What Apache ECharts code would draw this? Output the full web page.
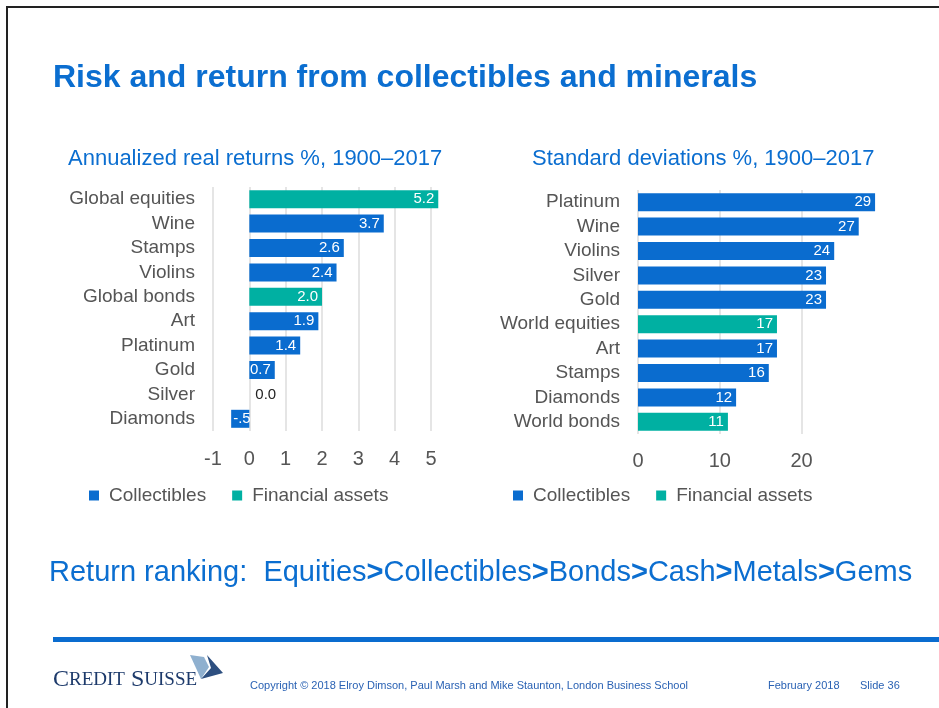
<!doctype html>
<html>
<head>
<meta charset="utf-8">
<script src="https://cdn.jsdelivr.net/npm/echarts@6/dist/echarts.min.js"></script>
<style>
    html, body { margin: 0; padding: 0; background: #fff; }
    #main { width: 939px; height: 708px; }
</style>
</head>
<body>
<div id="main"></div>
<script>
// left chart: annualized real returns
var leftCats = ['Global equities', 'Wine', 'Stamps', 'Violins', 'Global bonds', 'Art', 'Platinum', 'Gold', 'Silver', 'Diamonds'];
var leftVals = [5.2, 3.7, 2.6, 2.4, 2.0, 1.9, 1.4, 0.7, 0.0, -0.5];
var leftKind = ['F', 'C', 'C', 'C', 'F', 'C', 'C', 'C', 'C', 'C'];

// right chart: standard deviations
var rightCats = ['Platinum', 'Wine', 'Violins', 'Silver', 'Gold', 'World equities', 'Art', 'Stamps', 'Diamonds', 'World bonds'];
var rightVals = [29, 27, 24, 23, 23, 17, 17, 16, 12, 11];
var rightKind = ['C', 'C', 'C', 'C', 'C', 'F', 'C', 'C', 'C', 'F'];

var seriesNames = { C: 'Collectibles', F: 'Financial assets' };
var colors = { C: '#0a6ccf', F: '#00b0a2' };

var BLUE = '#0b6ed0';
var GREY = '#555';

function fmtLeft(p) {
    var v = p.value;
    if (v < 0) return '-' + String(Math.abs(v)).replace(/^0/, '');
    return v.toFixed(1);
}
function fmtRight(p) {
    return String(p.value);
}

function makeSeries(kind, vals, kinds, idx, fmt) {
    return {
        name: seriesNames[kind],
        type: 'bar',
        xAxisIndex: idx,
        yAxisIndex: idx,
        stack: 's' + idx,
        barWidth: 18,
        clip: false,
        itemStyle: { color: colors[kind] },
        label: {
            show: true,
            position: 'insideRight',
            color: '#fff',
            fontSize: 15,
            fontFamily: 'Liberation Sans',
            distance: 4,
            formatter: fmt
        },
        data: vals.map(function (v, i) {
            if (kinds[i] !== kind) return '-';
            if (v === 0) return { value: v, label: { position: 'right', color: '#222', distance: 6 } };
            if (v < 0) return { value: v, label: { position: 'insideLeft', distance: 2 } };
            return v;
        })
    };
}

var myChart = echarts.init(document.getElementById('main'));

var catAxis = function (idx, cats) {
    return {
        type: 'category',
        gridIndex: idx,
        data: cats,
        inverse: true,
        axisLine: { show: false },
        axisTick: { show: false },
        axisLabel: { interval: 0, color: GREY, fontSize: 19, fontFamily: 'Liberation Sans', margin: 18 }
    };
};
var valAxis = function (idx, min, max, step, margin) {
    return {
        type: 'value',
        gridIndex: idx,
        min: min,
        max: max,
        interval: step,
        axisLine: { show: false },
        axisTick: { show: false },
        splitLine: { show: true, lineStyle: { color: '#dcdcdc', width: 1.5 } },
        axisLabel: { color: GREY, fontSize: 20, fontFamily: 'Liberation Sans', margin: margin }
    };
};

var legendStyle = {
    icon: 'rect',
    itemWidth: 10,
    itemHeight: 10,
    itemGap: 26,
    textStyle: { color: GREY, fontSize: 19, fontFamily: 'Liberation Sans', padding: [0, 0, 0, 5] },
    data: ['Collectibles', 'Financial assets']
};

var option = {
    animation: false,
    backgroundColor: '#fff',
    grid: [
        { left: 213, top: 187, width: 218, height: 244 },
        { left: 638, top: 190, width: 163.5, height: 244 }
    ],
    xAxis: [valAxis(0, -1, 5, 1, 18), valAxis(1, 0, 20, 10, 17)],
    yAxis: [catAxis(0, leftCats), catAxis(1, rightCats)],
    legend: [
        Object.assign({ left: 84, top: 481 }, legendStyle),
        Object.assign({ left: 508, top: 481 }, legendStyle)
    ],
    series: [
        makeSeries('C', leftVals, leftKind, 0, fmtLeft),
        makeSeries('F', leftVals, leftKind, 0, fmtLeft),
        makeSeries('C', rightVals, rightKind, 1, fmtRight),
        makeSeries('F', rightVals, rightKind, 1, fmtRight)
    ],
    graphic: [
        // slide frame
        { type: 'rect', shape: { x: 7, y: 7, width: 960, height: 720 }, style: { fill: 'none', stroke: '#222', lineWidth: 2 }, silent: true },
        { type: 'text', left: 53, top: 62, style: { text: 'Risk and return from collectibles and minerals', fill: BLUE, font: 'bold 32px "Liberation Sans"' } },
        { type: 'text', left: 68, top: 148, style: { text: 'Annualized real returns %, 1900–2017', fill: BLUE, font: '22px "Liberation Sans"' } },
        { type: 'text', left: 532, top: 148, style: { text: 'Standard deviations %, 1900–2017', fill: BLUE, font: '22px "Liberation Sans"' } },
        {
            type: 'text', left: 49, top: 558,
            style: {
                text: '{n|Return ranking:  Equities}{g|>}{n|Collectibles}{g|>}{n|Bonds}{g|>}{n|Cash}{g|>}{n|Metals}{g|>}{n|Gems}',
                rich: {
                    n: { fill: BLUE, font: '29px "Liberation Sans"' },
                    g: { fill: BLUE, font: 'bold 29px "Liberation Sans"' }
                }
            }
        },
        // blue rule
        { type: 'rect', shape: { x: 53, y: 637, width: 900, height: 5 }, style: { fill: '#0a6ccf' }, silent: true },
        // logo
        {
            type: 'text', left: 53, top: 668,
            style: {
                text: '{b|C}{s|REDIT}{b| S}{s|UISSE}',
                rich: {
                    b: { fill: '#1d3a6b', font: '24px "Liberation Serif"' },
                    s: { fill: '#1d3a6b', font: '19px "Liberation Serif"' }
                }
            }
        },
        { type: 'polygon', shape: { points: [[190, 655], [204, 657], [209, 667], [201, 679]] }, style: { fill: '#8fb0cf' }, silent: true },
        { type: 'polygon', shape: { points: [[207, 655], [223, 673], [201, 679], [211, 668]] }, style: { fill: '#2d4f80' }, silent: true },
        { type: 'text', left: 250, top: 680, style: { text: 'Copyright © 2018 Elroy Dimson, Paul Marsh and Mike Staunton, London Business School', fill: '#2a62b4', font: '11px "Liberation Sans"' } },
        { type: 'text', left: 768, top: 680, style: { text: 'February 2018', fill: '#2a62b4', font: '11px "Liberation Sans"' } },
        { type: 'text', left: 860, top: 680, style: { text: 'Slide 36', fill: '#2a62b4', font: '11px "Liberation Sans"' } }
    ]
};

myChart.setOption(option);
</script>
</body>
</html>
